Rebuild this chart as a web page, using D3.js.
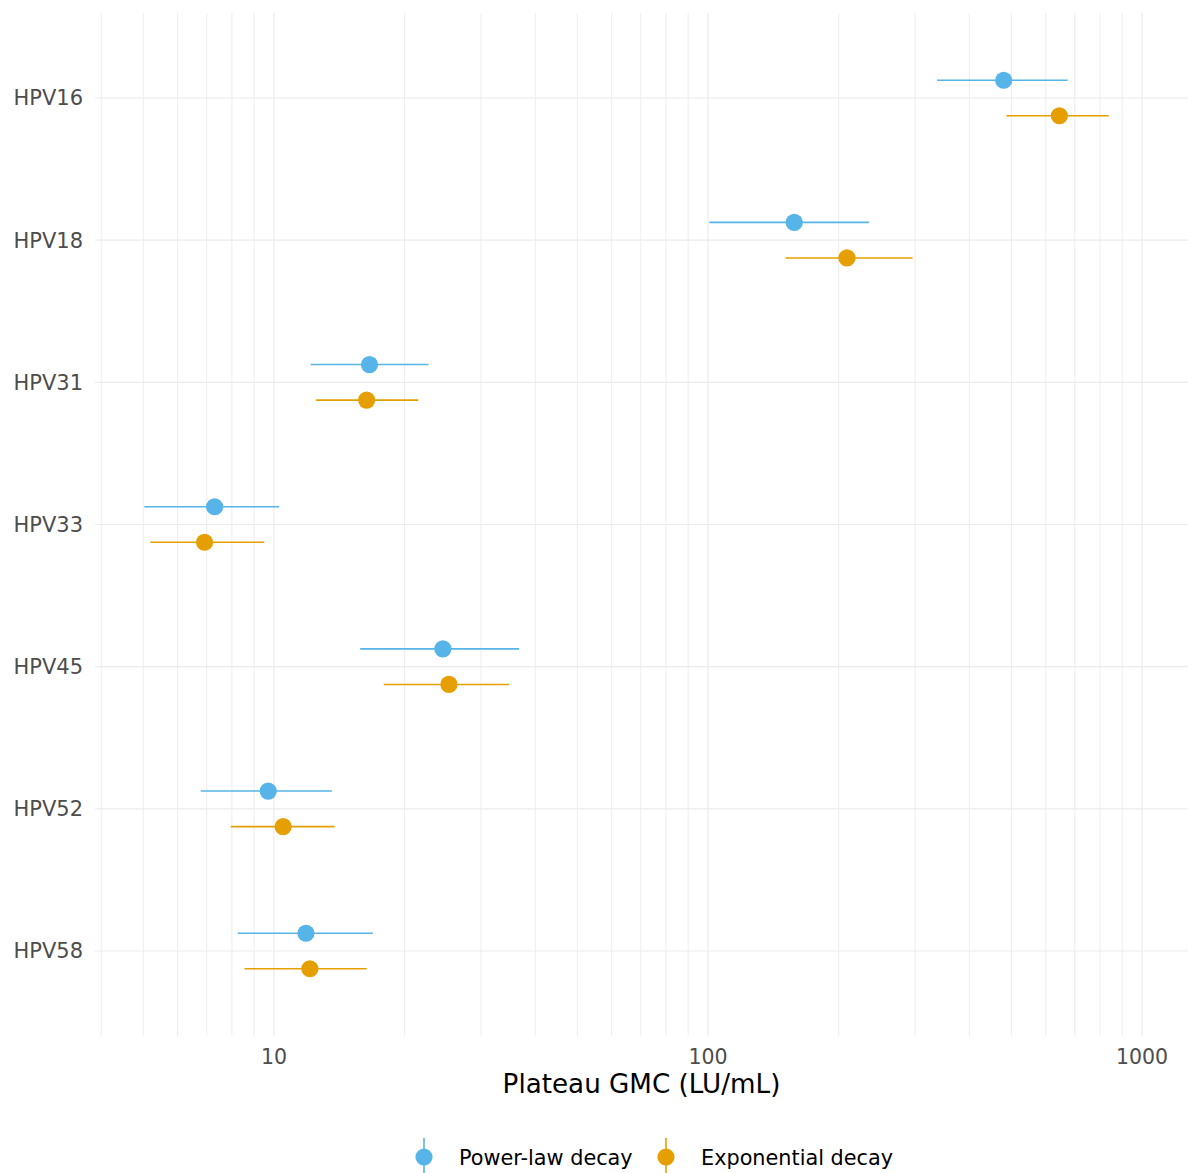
<!DOCTYPE html>
<html>
<head>
<meta charset="utf-8">
<script src="https://cdn.jsdelivr.net/npm/d3@7"></script>
<style>
  html, body { margin: 0; padding: 0; background: #ffffff; }
  svg { display: block; font-family: "DejaVu Sans", sans-serif; }
</style>
</head>
<body>
<svg id="chart" width="1188" height="1173"></svg>
<script>
// HPV types, top to bottom
const categories = ["HPV16", "HPV18", "HPV31", "HPV33", "HPV45", "HPV52", "HPV58"];

// Plateau GMC estimates and 95% intervals (LU/mL)
const powerEst = [480, 158, 16.6, 7.3, 24.5, 9.7, 11.85];
const powerLo  = [337, 100.7, 12.15, 5.03, 15.8, 6.78, 8.25];
const powerHi  = [674, 235, 22.7, 10.27, 36.7, 13.6, 16.9];

const expEst = [645, 209, 16.35, 6.92, 25.3, 10.5, 12.1];
const expLo  = [487, 151, 12.5, 5.19, 17.9, 7.95, 8.55];
const expHi  = [838, 296, 21.5, 9.5, 34.8, 13.8, 16.35];

const seriesNames = ["Power-law decay", "Exponential decay"];
const seriesColors = ["#56B4E9", "#E69F00"];

const majorTicks = [10, 100, 1000];
const tickLabels = ["10", "100", "1000"];
const xTitle = "Plateau GMC (LU/mL)";

const svg = d3.select("#chart");
const panel = { left: 95, right: 1188, top: 13, bottom: 1036 };

const x = d3.scaleLog().domain([3.87, 1276]).range([panel.left, panel.right]);
const y = d3.scalePoint().domain(categories).range([98, 951]);
const dodge = y.step() * 0.125;

// grid: minor lines at 2..9 x 10^k, major lines at the decades
const minor = [];
[1, 10, 100, 1000].forEach(k => {
  for (let m = 1; m <= 9; m++) {
    const v = m * k;
    if (v >= x.domain()[0] && v <= x.domain()[1] && !majorTicks.includes(v)) minor.push(v);
  }
});
const grid = svg.append("g");
grid.selectAll("line.minor").data(minor).join("line")
  .attr("x1", d => x(d)).attr("x2", d => x(d))
  .attr("y1", panel.top).attr("y2", panel.bottom)
  .attr("stroke", "#ededed").attr("stroke-width", 1);
grid.selectAll("line.major").data(majorTicks).join("line")
  .attr("x1", d => x(d)).attr("x2", d => x(d))
  .attr("y1", panel.top).attr("y2", panel.bottom)
  .attr("stroke", "#ebebeb").attr("stroke-width", 1.2);
grid.selectAll("line.h").data(categories).join("line")
  .attr("x1", panel.left).attr("x2", panel.right)
  .attr("y1", d => y(d)).attr("y2", d => y(d))
  .attr("stroke", "#ebebeb").attr("stroke-width", 1.2);

// y-axis labels
svg.append("g").selectAll("text").data(categories).join("text")
  .attr("x", 83).attr("y", d => y(d)).attr("dy", "0.35em")
  .attr("text-anchor", "end")
  .attr("font-size", 21).attr("fill", "#4d4d4d")
  .text(d => d);

// x-axis labels
svg.append("g").selectAll("text").data(majorTicks).join("text")
  .attr("x", d => x(d)).attr("y", 1057).attr("dy", "0.35em")
  .attr("text-anchor", "middle")
  .attr("font-size", 20.5).attr("fill", "#4d4d4d")
  .text((d, i) => tickLabels[i]);

svg.append("text")
  .attr("x", (panel.left + panel.right) / 2).attr("y", 1084).attr("dy", "0.35em")
  .attr("text-anchor", "middle").attr("font-size", 26.2).attr("fill", "#000")
  .text(xTitle);

// point ranges
const series = [
  { est: powerEst, lo: powerLo, hi: powerHi, off: -dodge, color: seriesColors[0] },
  { est: expEst, lo: expLo, hi: expHi, off: dodge, color: seriesColors[1] }
];
series.forEach(s => {
  const rows = categories.map((c, i) => ({ c, est: s.est[i], lo: s.lo[i], hi: s.hi[i] }));
  const g = svg.append("g");
  g.selectAll("line").data(rows).join("line")
    .attr("x1", d => x(d.lo)).attr("x2", d => x(d.hi))
    .attr("y1", d => y(d.c) + s.off).attr("y2", d => y(d.c) + s.off)
    .attr("stroke", s.color).attr("stroke-width", 1.6);
  g.selectAll("circle").data(rows).join("circle")
    .attr("cx", d => x(d.est)).attr("cy", d => y(d.c) + s.off)
    .attr("r", 8.6).attr("fill", s.color);
});

// legend
const legendX = [424, 666];
const legend = svg.append("g");
seriesNames.forEach((name, i) => {
  legend.append("line")
    .attr("x1", legendX[i]).attr("x2", legendX[i])
    .attr("y1", 1138).attr("y2", 1176)
    .attr("stroke", seriesColors[i]).attr("stroke-width", 1.6);
  legend.append("circle")
    .attr("cx", legendX[i]).attr("cy", 1157).attr("r", 8.6)
    .attr("fill", seriesColors[i]);
  legend.append("text")
    .attr("x", legendX[i] + 35).attr("y", 1158).attr("dy", "0.35em")
    .attr("font-size", 20.8).attr("fill", "#000")
    .text(name);
});
</script>
</body>
</html>
